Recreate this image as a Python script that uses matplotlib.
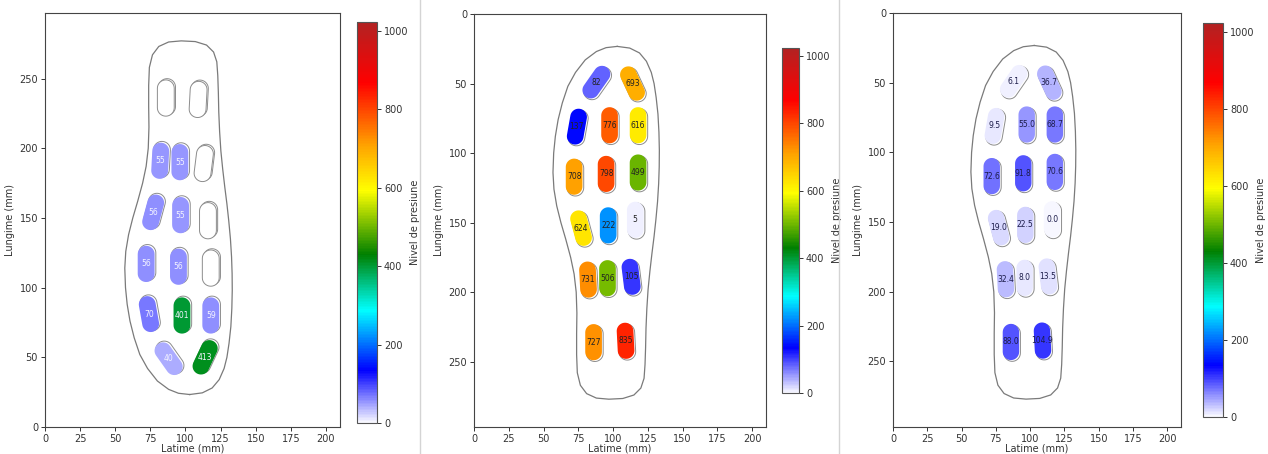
import numpy as np
import matplotlib
matplotlib.use('Agg')
import matplotlib.pyplot as plt
from matplotlib.colors import LinearSegmentedColormap, Normalize
from matplotlib.cm import ScalarMappable
from matplotlib.patches import Polygon
from matplotlib.lines import Line2D

# sensor centres (mm) and tilt (deg) on the insole
sensor_x = [88, 114, 74, 97.5, 118, 72, 95, 118, 77, 96.5, 116, 82, 96, 113, 86, 109]
sensor_y = [49, 50, 81, 80, 80, 117, 115, 114, 154, 152, 148, 191, 190, 189, 236, 235]
sensor_angle = [-35, 25, -10, 0, 0, 0, 0, 0, 15, 0, 0, 3, 0, 7, 0, 3]

# pressure readings per sensor (nan = no reading)
pressure_1 = [40, 413, 70, 401, 59, 56, 56, np.nan, 56, 55, np.nan, 55, 55, np.nan, np.nan, np.nan]
pressure_2 = [82, 693, 137, 776, 616, 708, 798, 499, 624, 222, 5, 731, 506, 105, 727, 835]
pressure_3 = [6.1, 36.7, 9.5, 55.0, 68.7, 72.6, 91.8, 70.6, 19.0, 22.5, 0.0, 32.4, 8.0, 13.5, 88.0, 104.9]

# insole contour (mm)
outline_x = [103, 112, 119, 124, 127.5, 129.5, 131, 132.3, 133, 133.3, 133.2, 132.8, 132, 130.8, 129.5,
             128, 126.5, 125.2, 124.3, 123.7, 123.4, 123, 122.3, 120, 115, 107, 97, 88, 81, 76.5,
             74.3, 73.8, 73.8, 74, 73.5, 72, 69.5, 66, 62.5, 59.5, 57.5, 56.8, 57.3, 58.5, 60.5,
             63.5, 67.5, 73, 80, 88, 95, 103]
outline_y = [23.3, 24.5, 28, 34, 42, 50, 60, 72, 85, 98, 110, 122, 135, 148, 160,
             172, 185, 198, 212, 226, 240, 252, 262, 269, 274, 276.5, 277, 276.2, 273, 267,
             258, 245, 230, 215, 200, 187, 175, 162, 150, 138, 126, 114, 100, 88, 76,
             64, 52, 42, 33, 27, 24.2, 23.3]

cmap = LinearSegmentedColormap.from_list('presiune', [
    (0.0, '#f7f7ff'), (0.13, '#0000ff'), (0.28, '#00ffff'), (0.42, '#008000'),
    (0.58, '#ffff00'), (0.69, '#ffa500'), (0.85, '#ff0000'), (1.0, '#b22222')])
norm = Normalize(0, 1023)


def capsule(cx, cy, ang, w=12, L=26):
    r = w / 2
    h = L / 2 - r
    t1 = np.linspace(0, np.pi, 20)
    t2 = np.linspace(np.pi, 2 * np.pi, 20)
    u = np.concatenate([r * np.cos(t1), r * np.cos(t2)])
    v = np.concatenate([h + r * np.sin(t1), -h + r * np.sin(t2)])
    a = np.radians(ang)
    x = cx + u * np.cos(a) + v * np.sin(a)
    y = cy - u * np.sin(a) + v * np.cos(a)
    return np.column_stack([x, y])


W, H = 1268, 454
fig = plt.figure(figsize=(W / 100, H / 100), dpi=100)


def px(left, top, right, bottom):
    return [left / W, 1 - bottom / H, (right - left) / W, (bottom - top) / H]


panels = [
    (px(45, 13, 340, 427), px(357, 22, 377, 423), pressure_1, '{:.0f}', '#f4f4ff', False),
    (px(474, 14, 766, 427), px(782, 48, 799, 393), pressure_2, '{:.0f}', '#222222', True),
    (px(893, 13, 1181, 427), px(1203, 23, 1223, 417), pressure_3, '{:.1f}', '#1c1c4a', True),
]

for rect, cbrect, vals, fmt, tc, flip in panels:
    ax = fig.add_axes(rect)
    ax.plot(outline_x, outline_y, color='#7a7a7a', lw=0.9)
    for x, y, a, v in zip(sensor_x, sensor_y, sensor_angle, vals):
        ax.add_patch(Polygon(capsule(x + 0.9, y + 0.9, a), closed=True, fill=False,
                             ec='#8c8c8c', lw=0.7))
        if np.isnan(v):
            ax.add_patch(Polygon(capsule(x, y, a), closed=True, fc='white', ec='#8c8c8c', lw=0.7))
        else:
            ax.add_patch(Polygon(capsule(x, y, a), closed=True, fc=cmap(norm(v)), ec='none'))
            ax.text(x, y, fmt.format(v), ha='center', va='center', fontsize=5.5, color=tc)
    ax.set_xlim(0, 210)
    if flip:
        ax.set_ylim(297, 0)
    else:
        ax.set_ylim(0, 297)
    ax.set_xticks(range(0, 201, 25))
    ax.set_yticks(range(0, 251, 50))
    ax.tick_params(labelsize=7, colors='#333333', length=3, width=0.7, pad=2)
    for s in ax.spines.values():
        s.set_color('#444444')
        s.set_linewidth(0.8)
    ax.set_xlabel('Latime (mm)', fontsize=7, color='#333333', labelpad=0)
    ax.set_ylabel('Lungime (mm)', fontsize=7, color='#333333', labelpad=3)

    cax = fig.add_axes(cbrect)
    cb = fig.colorbar(ScalarMappable(norm=norm, cmap=cmap), cax=cax)
    cb.set_ticks(range(0, 1001, 200))
    cb.ax.tick_params(labelsize=7, colors='#333333', length=3, width=0.7, pad=2)
    cb.outline.set_edgecolor('#555555')
    cb.outline.set_linewidth(0.8)
    cb.set_label('Nivel de presiune', fontsize=7, color='#333333', labelpad=1)

for xs in (420, 839):
    fig.add_artist(Line2D([xs / W, xs / W], [0, 1], color='#d4d4d4', lw=1, transform=fig.transFigure))

fig.savefig('out.png', dpi=100)
